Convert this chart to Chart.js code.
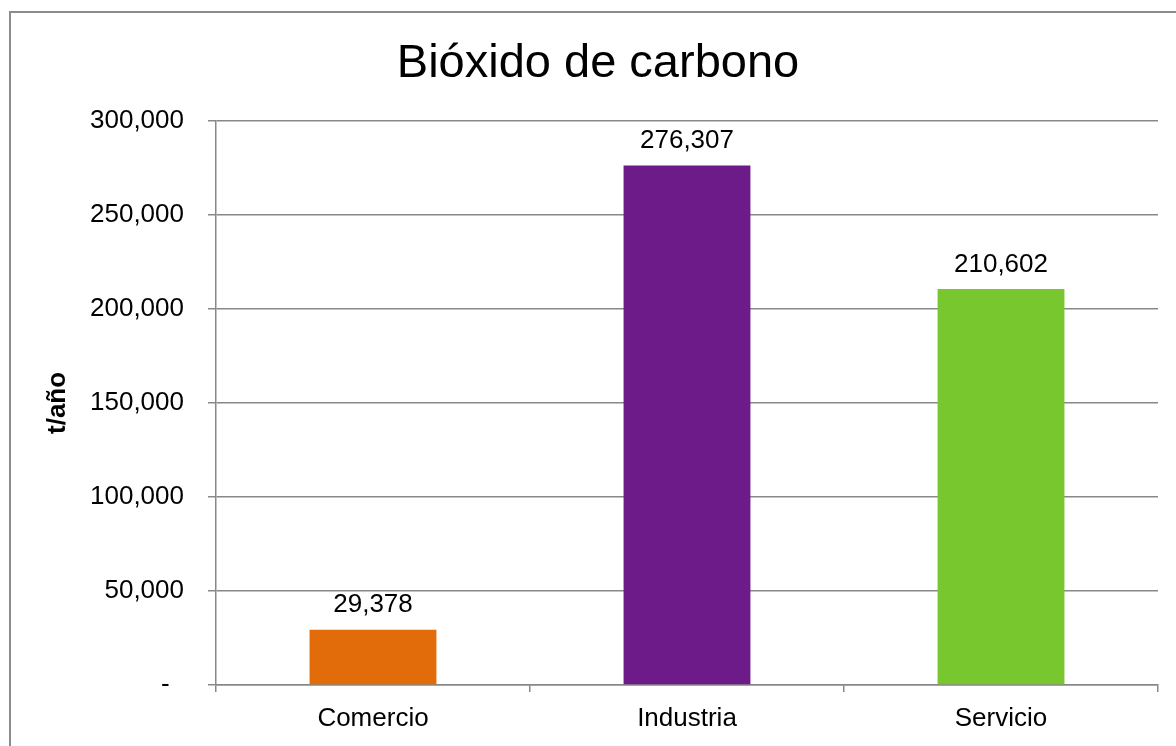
<!DOCTYPE html>
<html>
<head>
<meta charset="utf-8">
<title>Bióxido de carbono</title>
<script src="https://cdn.jsdelivr.net/npm/chart.js@4/dist/chart.umd.min.js"></script>
<style>
    html, body { margin: 0; padding: 0; background: #fff; overflow: hidden; }
    canvas { display: block; }
</style>
</head>
<body>
<canvas id="chart" width="1176" height="746"></canvas>
<script>
var categories = ['Comercio', 'Industria', 'Servicio'];
var values = [29378, 276307, 210602];
var barColors = ['#E26B0A', '#6D1B89', '#78C72F'];
var yTicks = [0, 50000, 100000, 150000, 200000, 250000, 300000];

var FONT = "'Liberation Sans', Arial, sans-serif";

var formatNumber = function(value) {
    if (value === 0) {
        return '-  '; // accounting style dash
    }
    return value.toLocaleString('en-US');
};

// outer frame of the chart object
var framePlugin = {
    id: 'frame',
    beforeDraw: function(chart) {
        var ctx = chart.ctx;
        ctx.save();
        ctx.strokeStyle = '#8c8c8c';
        ctx.lineWidth = 2;
        ctx.strokeRect(10, 12, 1300, 900);
        ctx.restore();
    }
};

// value labels on top of each bar
var valueLabels = {
    id: 'valueLabels',
    afterDatasetsDraw: function(chart) {
        var ctx = chart.ctx,
            meta = chart.getDatasetMeta(0);
        ctx.save();
        ctx.font = '26px ' + FONT;
        ctx.fillStyle = '#000';
        ctx.textAlign = 'center';
        ctx.textBaseline = 'middle';
        meta.data.forEach(function(bar, index) {
            ctx.fillText(formatNumber(values[index]), bar.x, bar.y - 24.5);
        });
        ctx.restore();
    }
};

var chart = new Chart(document.getElementById('chart'), {
    type: 'bar',
    data: {
        labels: categories,
        datasets: [{
            label: 'Bióxido de carbono',
            data: values,
            backgroundColor: barColors,
            borderWidth: 0,
            barPercentage: 0.404,
            categoryPercentage: 1
        }]
    },
    options: {
        responsive: false,
        animation: false,
        layout: {
            padding: { left: 38, right: 18, top: 0, bottom: 0 }
        },
        plugins: {
            legend: { display: false },
            tooltip: { enabled: false },
            title: {
                display: true,
                text: 'Bióxido de carbono',
                color: '#000',
                font: { family: FONT, size: 47, weight: 'normal' },
                padding: { top: 35.5, bottom: 29 }
            }
        },
        scales: {
            x: {
                afterFit: function(scale) {
                    scale.height = 61;
                },
                grid: {
                    drawOnChartArea: false,
                    drawTicks: true,
                    tickLength: 7,
                    color: '#888',
                    lineWidth: 1.5
                },
                border: { color: '#888', width: 1.5 },
                ticks: {
                    color: '#000',
                    padding: 11,
                    font: { family: FONT, size: 26 }
                }
            },
            y: {
                min: 0,
                max: 300000,
                afterBuildTicks: function(scale) {
                    scale.ticks = yTicks.map(function(v) { return { value: v }; });
                },
                afterFit: function(scale) {
                    scale.width = 178;
                },
                grid: {
                    drawTicks: true,
                    tickLength: 8,
                    color: '#888',
                    lineWidth: 1.5
                },
                border: { color: '#888', width: 1.5 },
                ticks: {
                    color: '#000',
                    padding: 24,
                    font: { family: FONT, size: 26 },
                    callback: function(value) {
                        return formatNumber(value);
                    }
                },
                title: {
                    display: true,
                    text: 't/año',
                    color: '#000',
                    font: { family: FONT, size: 26, weight: 'bold' },
                    padding: { top: 4, bottom: 4 }
                }
            }
        }
    },
    plugins: [framePlugin, valueLabels]
});
</script>
</body>
</html>
